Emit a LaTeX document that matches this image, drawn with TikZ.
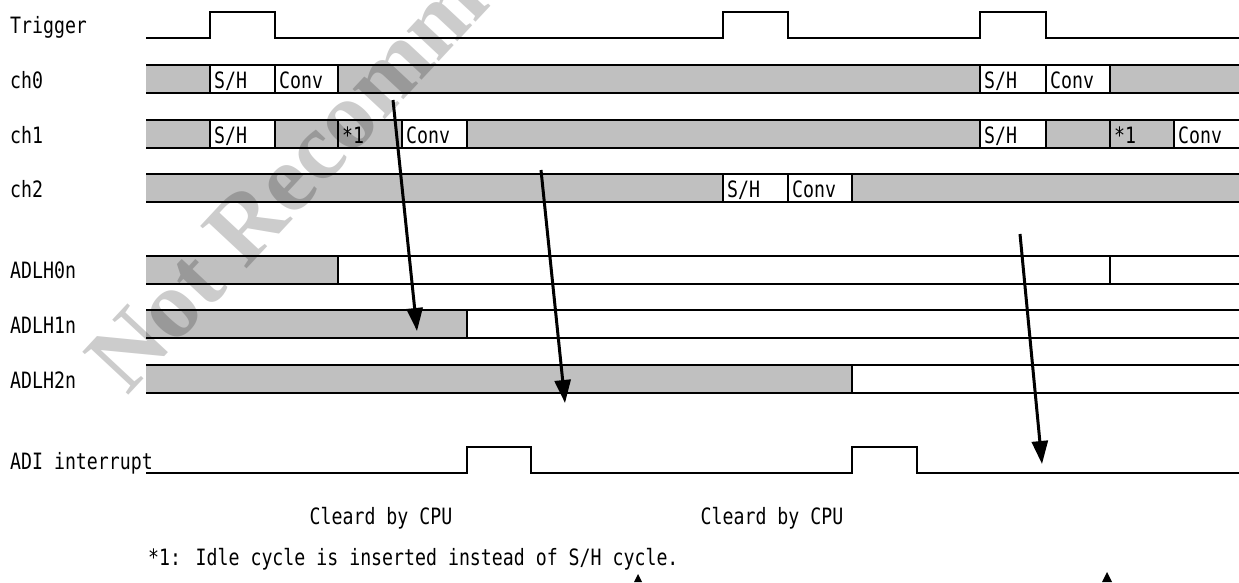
\documentclass[tikz,border=0pt]{standalone}
\usepackage{fontspec}
\usepackage{tikz}
\usetikzlibrary{arrows.meta,positioning}
\newfontfamily\sigfont{DejaVu Sans Mono}
\newfontfamily\wmfont{Liberation Serif}
\definecolor{bandgray}{RGB}{192,192,192}

\begin{document}
\begin{tikzpicture}[x=1pt, y=-1pt,
    sig/.style={line width=2.8pt},
    sepline/.style={line width=2.6pt},
    lbl/.style={font=\sigfont\fontsize{22.5}{26}\selectfont, inner sep=0pt,
                anchor=base west, xscale=0.81, transform shape},
    arr/.style={line width=3pt, -{Triangle[length=23pt,width=16pt]}},
    wm/.style={font=\wmfont\bfseries\fontsize{96}{96}\selectfont,
               text=black, text opacity=0.2, inner sep=0pt}]
  \useasboundingbox (0,0) rectangle (1239,582);

  % channel bands
  \foreach \ty in {65,120,174}
    \fill[bandgray] (146,\ty) rectangle (1239,\ty+28);
  \foreach \xa/\xb/\ty in {210/275/65, 275/338/65, 980/1046/65, 1046/1110/65,
                           210/275/120, 402/467/120, 980/1046/120, 1174/1239/120,
                           723/788/174, 788/852/174}
    \fill[white] (\xa,\ty) rectangle (\xb,\ty+28);
  % result registers
  \fill[bandgray] (146,256) rectangle (338,284);
  \fill[bandgray] (146,310) rectangle (467,338);
  \fill[bandgray] (146,365) rectangle (852,393);

  \foreach \ty in {65,120,174,256,310,365}
    \draw[sig] (146,\ty) -- (1239,\ty) (146,\ty+28) -- (1239,\ty+28);
  \foreach \x/\ty in {210/65, 275/65, 338/65, 980/65, 1046/65, 1110/65,
                      210/120, 275/120, 338/120, 402/120, 467/120,
                      980/120, 1046/120, 1110/120, 1174/120,
                      723/174, 788/174, 852/174,
                      338/256, 1110/256, 467/310, 852/365}
    \draw[sepline] (\x,\ty) -- (\x,\ty+28);

  % trigger and interrupt
  \draw[sig] (146,38) -- (210,38) -- (210,12) -- (275,12) -- (275,38)
    -- (723,38) -- (723,12) -- (788,12) -- (788,38)
    -- (980,38) -- (980,12) -- (1046,12) -- (1046,38) -- (1239,38);
  \draw[sig] (146,473) -- (467,473) -- (467,447) -- (531,447) -- (531,473)
    -- (852,473) -- (852,447) -- (917,447) -- (917,473) -- (1239,473);

  % row names
  \foreach \nm/\txt/\by in {trig/Trigger/33, ch0/ch0/88, ch1/ch1/143, ch2/ch2/197,
                            adlh0/ADLH0n/278, adlh1/ADLH1n/333, adlh2/ADLH2n/388,
                            adi/ADI interrupt/469}
    \node[lbl] (\nm) at (10,\by) {\txt};

  % slot texts
  \foreach \nm/\txt/\x/\ty in {sha/{S/H}/210/65, cva/Conv/275/65, shb/{S/H}/980/65, cvb/Conv/1046/65,
                               shc/{S/H}/210/120, ida/*1/338/120, cvc/Conv/402/120,
                               shd/{S/H}/980/120, idb/*1/1110/120, cvd/Conv/1174/120,
                               she/{S/H}/723/174, cve/Conv/788/174}
    \node[lbl] (\nm) at (\x+4,\ty+23) {\txt};

  \node[lbl, anchor=base] (clra) at (381,524) {Cleard by CPU};
  \node[lbl, anchor=base] (clrb) at (772,524) {Cleard by CPU};
  \node[lbl] (note) at (148,565) {*1: Idle cycle is inserted instead of S/H cycle.};

  % transfer arrows
  \coordinate (ta) at (393,100);
  \coordinate (tb) at (417,331);
  \coordinate (tc) at (541,170);
  \coordinate (td) at (565,403);
  \coordinate (te) at (1020,234);
  \coordinate (tf) at (1042,464);
  \draw[arr] (ta) -- (tb);
  \draw[arr] (tc) -- (td);
  \draw[arr] (te) -- (tf);

  \fill (1107,572) -- (1102,582) -- (1112,582) -- cycle;
  \fill (638,574) -- (634,582) -- (642,582) -- cycle;

  \node[wm, rotate=47, anchor=base west] (wmark) at (127,397) {Not Recommended};
\end{tikzpicture}
\end{document}
